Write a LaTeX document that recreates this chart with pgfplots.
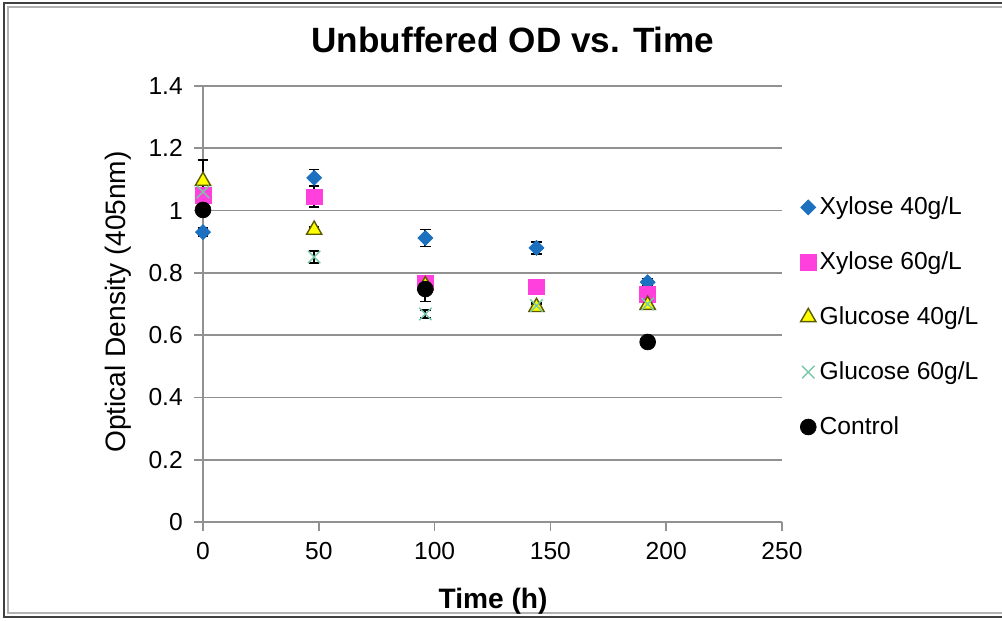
\documentclass[border=0pt]{standalone}
\usepackage{pgfplots}
\pgfplotsset{compat=1.18}
\usepackage{fontspec}
\setmainfont{Liberation Sans}

\definecolor{xylblue}{RGB}{28,112,192}
\definecolor{xylpink}{RGB}{255,64,220}
\definecolor{gluyel}{RGB}{255,255,0}
\definecolor{gluedge}{RGB}{90,90,0}
\definecolor{glugreen}{RGB}{120,200,170}
\definecolor{gridgray}{RGB}{145,145,145}

\begin{document}
\begin{tikzpicture}
% whole chart area and its frame (1 px = 0.02 cm)
\useasboundingbox (0,0) rectangle (20.04cm,12.42cm);
\draw[black!75, line width=1.4pt] (20.1cm,12.36cm) -- (0.08cm,12.36cm) -- (0.08cm,0.08cm) -- (20.1cm,0.08cm);
\draw[black!30, line width=0.8pt] (20.1cm,12.28cm) -- (0.16cm,12.28cm) -- (0.16cm,0.16cm) -- (20.1cm,0.16cm);

\node[font=\fontsize{20}{24}\selectfont\bfseries] at (10.26cm,11.62cm) {Unbuffered OD vs. Time};
\node[font=\fontsize{16}{19}\selectfont, rotate=90] at (2.36cm,6.38cm) {Optical Density (405nm)};
\node[font=\fontsize{16}{19}\selectfont\bfseries] at (9.86cm,0.40cm) {Time (h)};

\begin{axis}[
    at={(4.06cm,1.98cm)}, anchor=south west,
    scale only axis,
    width=11.58cm, height=8.72cm,
    xmin=0, xmax=250, ymin=0, ymax=1.4,
    xtick={0,50,...,250},
    ytick={0,0.2,...,1.4},
    axis x line*=bottom, axis y line*=left,
    axis line style={gridgray, line width=1pt, -},
    tick align=outside,
    major tick length=5pt,
    tick style={gridgray, line width=1pt},
    ymajorgrids,
    grid style={gridgray, line width=1pt},
    tick label style={font=\fontsize{14}{16}\selectfont},
    xticklabel style={yshift=-3pt},
    yticklabel style={xshift=-3pt, /pgf/number format/fixed},
    /pgf/number format/assume math mode=true,
    clip=false,
    legend cell align=left,
    legend style={at={(1.022,0.762)}, anchor=north west, draw=none, fill=none,
                  font=\fontsize{14}{16}\selectfont, row sep=15.6pt},
    error bars/y dir=both, error bars/y explicit,
    error bars/error bar style={black, line width=1pt},
    error bars/error mark options={rotate=90, black, mark size=3pt, line width=1pt},
]
\addplot[only marks, mark=square*, mark size=3pt, xylblue, mark options={fill=xylblue, draw=xylblue, rotate=45}]
  coordinates {(0,0.931) +- (0,0.012) (48,1.105) +- (0,0.027) (96,0.912) +- (0,0.027) (144,0.880) +- (0,0.02) (192,0.770) +- (0,0.012)};
\addlegendentry{Xylose 40g/L}
\addplot[only marks, mark=square*, mark size=4.5pt, xylpink, mark options={fill=xylpink, draw=xylpink}]
  coordinates {(0,1.050) +- (0,0.01) (48,1.044) +- (0,0.033) (96,0.768) +- (0,0.01) (144,0.755) +- (0,0.005) (192,0.730) +- (0,0.01)};
\addlegendentry{Xylose 60g/L}
\addplot[only marks, mark=triangle*, mark size=5pt, gluedge, mark options={fill=gluyel, draw=gluedge, line width=0.8pt}]
  coordinates {(0,1.095) +- (0,0.068) (48,0.938) +- (0,0.01) (96,0.760) +- (0,0.01) (144,0.690) +- (0,0.01) (192,0.697) +- (0,0.01)};
\addlegendentry{Glucose 40g/L}
\addplot[only marks, mark=x, mark size=5pt, glugreen, mark options={draw=glugreen, line width=0.8pt}]
  coordinates {(0,1.060) +- (0,0.01) (48,0.851) +- (0,0.02) (96,0.668) +- (0,0.012) (144,0.695) +- (0,0.01) (192,0.700) +- (0,0.01)};
\addlegendentry{Glucose 60g/L}
\addplot[only marks, mark=*, mark size=4.5pt, black]
  coordinates {(0,1.002) +- (0,0.01) (96,0.748) +- (0,0.04) (192,0.578) +- (0,0.01)};
\addlegendentry{Control}
\end{axis}
\end{tikzpicture}
\end{document}
